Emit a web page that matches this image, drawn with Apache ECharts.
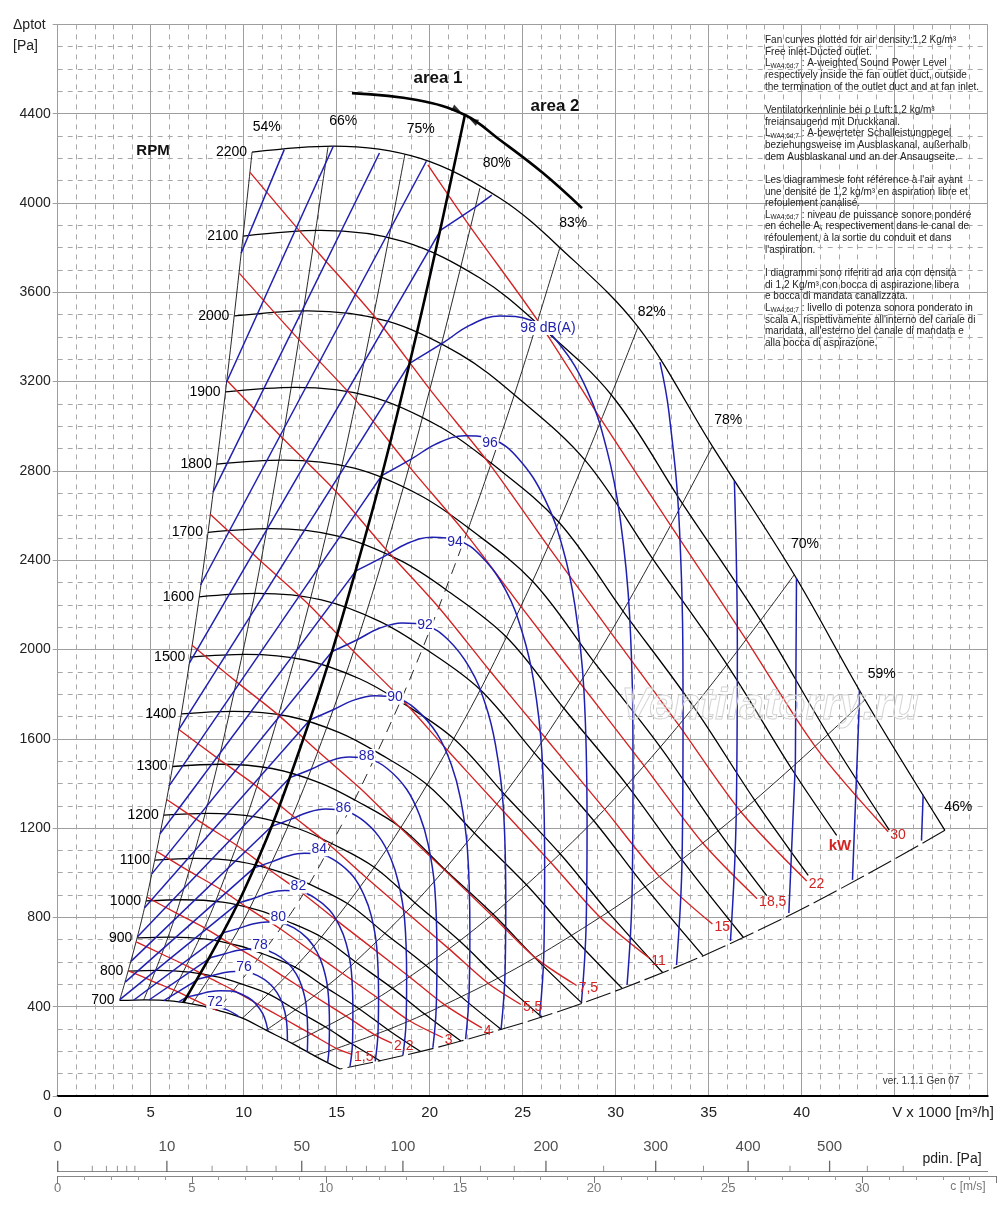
<!DOCTYPE html>
<html><head><meta charset="utf-8">
<script src="https://cdn.jsdelivr.net/npm/echarts/dist/echarts.min.js"></script>
<style>html,body{margin:0;padding:0;background:#fff}#c{width:1000px;height:1219px}</style>
</head><body><div id="c"></div>
<script>
// ---------------- RPM curves (V x1000 m3/h, dpt Pa) ----------------
const rpmSpeeds = [700,800,900,1000,1100,1200,1300,1400,1500,1600,1700,1800,1900,2000,2100,2200];
const rpm700  = [[3.33,428],[4.71,431],[6.21,425],[7.57,407],[8.59,385],[9.93,349],[11.2,295],[12.6,236],[13.81,180],[15.18,121]];
const rpm800  = [[3.8,559],[5.38,563],[7.09,555],[8.65,532],[9.82,503],[11.35,456],[12.8,385],[14.4,309],[15.78,235],[17.35,157]];
const rpm900  = [[4.28,708],[6.05,712],[7.98,703],[9.74,673],[11.05,636],[12.76,577],[14.4,487],[16.2,391],[17.75,297],[19.51,199]];
const rpm1000 = [[4.75,874],[6.73,879],[8.86,868],[10.82,831],[12.27,785],[14.18,712],[16.0,601],[18.0,482],[19.73,367],[21.68,246]];
const rpm1100 = [[5.23,1057],[7.4,1064],[9.75,1050],[11.9,1005],[13.5,950],[15.6,861],[17.6,728],[19.8,584],[21.7,444],[23.85,298]];
const rpm1200 = [[5.7,1258],[8.07,1266],[10.64,1250],[12.98,1196],[14.73,1131],[17.02,1025],[19.2,866],[21.6,695],[23.67,528],[26.02,354]];
const rpm1300 = [[6.18,1476],[8.75,1486],[11.52,1467],[14.06,1404],[15.95,1327],[18.44,1203],[20.8,1016],[23.4,815],[25.65,620],[28.19,416]];
const rpm1400 = [[6.65,1712],[9.42,1723],[12.41,1701],[15.15,1628],[17.18,1539],[19.85,1395],[22.4,1178],[25.2,946],[27.62,719],[30.35,482]];
const rpm1500 = [[7.13,1966],[10.09,1978],[13.3,1953],[16.23,1869],[18.41,1767],[21.27,1602],[24.0,1353],[27.0,1086],[29.59,825],[32.52,553]];
const rpm1600 = [[7.6,2236],[10.76,2251],[14.18,2222],[17.31,2126],[19.64,2010],[22.69,1822],[25.6,1539],[28.8,1235],[31.56,939],[34.69,629]];
const rpm1700 = [[8.08,2525],[11.44,2541],[15.07,2508],[18.39,2400],[20.86,2269],[24.11,2057],[27.2,1738],[30.6,1394],[33.54,1060],[36.86,711]];
const rpm1800 = [[8.55,2830],[12.11,2848],[15.95,2812],[19.47,2691],[22.09,2544],[25.53,2306],[28.8,1948],[32.4,1563],[35.51,1188],[38.12,898]];
const rpm1900 = [[9.03,3154],[12.78,3174],[16.84,3133],[20.55,2998],[23.32,2834],[26.95,2570],[30.4,2171],[34.2,1742],[37.48,1324],[40.35,988]];
const rpm2000 = [[9.5,3494],[13.45,3517],[17.73,3471],[21.64,3322],[24.55,3141],[28.36,2847],[32.0,2405],[36.0,1930],[39.45,1467],[41.88,1167]];
const rpm2100 = [[9.98,3852],[14.13,3877],[18.61,3827],[22.72,3663],[25.77,3462],[29.78,3139],[33.6,2652],[37.8,2128],[41.43,1617],[44.71,1191]];
const rpm2200 = [[10.45,4228],[14.8,4255],[19.5,4200],[23.8,4020],[27.0,3800],[31.2,3445],[35.2,2910],[39.6,2335],[43.4,1775],[47.7,1190]];
const rpmCurves = [rpm700,rpm800,rpm900,rpm1000,rpm1100,rpm1200,rpm1300,rpm1400,rpm1500,rpm1600,rpm1700,rpm1800,rpm1900,rpm2000,rpm2100,rpm2200];

// ---------------- efficiency lines ----------------
const eff54 = [[10.45,4228],[8.55,2830],[6.65,1712],[4.75,874],[3.33,428]];
const eff66 = [[14.53,4250],[11.89,2845],[9.25,1721],[6.6,878],[4.62,430]];
const eff75 = [[18.67,4219],[15.28,2824],[11.88,1709],[8.49,872],[5.94,427]];
const eff80 = [[22.7,4067],[18.57,2722],[14.45,1647],[10.32,840],[7.22,412]];
const eff83top = [[27.0,3800],[24.55,3141],[22.09,2544]];
const eff83low = [[22.09,2544],[19.64,2010],[17.18,1539],[14.73,1131],[12.27,785],[8.59,385]];
const eff82 = [[31.2,3445],[25.53,2306],[19.86,1395],[14.18,712],[9.93,349]];
const eff78 = [[35.2,2910],[28.8,1948],[22.4,1178],[16.0,601],[11.2,295]];
const eff70 = [[39.6,2335],[32.4,1563],[25.2,946],[18.0,482],[12.6,236]];
const eff59 = [[43.4,1775],[35.51,1188],[27.62,719],[19.73,367],[13.81,180]];
const eff46 = [[47.7,1190],[39.03,797],[30.36,482],[21.68,246],[15.18,121]];
const effLabelText = ['54%','66%','75%','80%','83%','82%','78%','70%','59%','46%'];
const effLabelAt = [[11.24,4341],[15.35,4368],[19.52,4330],[23.6,4180],[27.72,3911],[31.94,3513],[36.05,3028],[40.18,2472],[44.3,1888],[48.42,1294]];

// ---------------- area 1 / area 2 ----------------
const areaLine = [[21.9,4398],[19,3310],[16,2348],[13,1550],[10,917],[6.75,418]];
const areaArc = [[15.82,4492],[19.32,4461],[21.9,4394],[23.78,4282],[26.09,4134],[28.19,3977]];

// ---------------- power lines (kW) ----------------
const kw1_1 = [[3.81,561],[5.06,516],[6.26,474],[7.38,429],[8.57,383]];
const kw1_5 = [[4.22,690],[5.62,635],[6.94,583],[8.18,528],[9.51,471],[10.77,411],[12.15,347],[13.64,277],[15.01,212],[15.82,186]];
const kw2_2 = [[4.8,891],[6.38,819],[7.89,753],[9.29,682],[10.8,608],[12.24,530],[13.8,447],[15.5,358],[17.05,274],[17.97,237]];
const kw3   = [[5.32,1096],[7.07,1007],[8.75,926],[10.3,838],[11.98,748],[13.57,652],[15.3,550],[17.19,440],[18.91,337],[20.7,262]];
const kw4   = [[5.86,1328],[7.79,1221],[9.63,1122],[11.34,1016],[13.19,906],[14.94,790],[16.85,667],[18.92,533],[20.81,408],[22.8,305]];
const kw5_5 = [[6.51,1642],[8.66,1509],[10.7,1387],[12.61,1256],[14.66,1121],[16.61,977],[18.73,824],[21.04,659],[23.14,505],[24.9,410]];
const kw7_5 = [[7.22,2019],[9.6,1856],[11.87,1706],[13.99,1544],[16.26,1378],[18.42,1201],[20.77,1014],[23.33,810],[25.66,621],[27.9,495]];
const kw11  = [[8.2,2606],[10.91,2396],[13.49,2202],[15.89,1993],[18.47,1779],[20.93,1551],[23.6,1308],[26.51,1046],[29.16,801],[31.8,618]];
const kw15  = [[9.1,3205],[12.1,2946],[14.96,2708],[17.62,2451],[20.49,2188],[23.21,1907],[26.17,1609],[29.39,1286],[32.33,985],[35.2,770]];
const kw18_5= [[9.76,3686],[12.97,3388],[16.04,3115],[18.9,2819],[21.97,2516],[24.89,2194],[28.07,1851],[31.52,1480],[34.68,1133],[37.6,884]];
const kw22  = [[10.34,4137],[13.74,3803],[16.99,3496],[20.02,3164],[23.28,2824],[26.37,2462],[29.73,2077],[33.39,1661],[36.74,1272],[40.27,963]];
const kw30  = [[19.9,4171],[22.2,3891],[25.81,3473],[29.24,3027],[32.97,2554],[37.03,2042],[40.74,1564],[44.65,1184]];
const kwLines = [kw1_5,kw2_2,kw3,kw4,kw5_5,kw7_5,kw11,kw15,kw18_5,kw22,kw30];
const kwLabels = ['1,5','2,2','3','4','5,5','7,5','11','15','18,5','22','30'];

// ---------------- sound power curves dB(A) ----------------
const snd108Leg = [[9.86,3775],[12.18,4239]];
const snd108Right = [[46.53,1349],[46.44,1144]];
const snd106Leg = [[9.07,3196],[14.81,4253]];
const snd106Right = [[43.1,1819],[43.1,1763],[42.73,968]];
const snd104Leg = [[8.35,2705],[17.3,4224]];
const snd104Right = [[39.72,2319],[39.66,1493],[39.31,820]];
const snd102Leg = [[7.68,2289],[19.82,4187]];
const snd102Right = [[36.38,2755],[36.54,2007],[36.48,1263],[36.17,694]];
const snd100Leg = [[7.07,1938],[20.59,3879]];
const snd100Arc = [[20.59,3879],[22.51,3985],[23.34,4035]];
const snd100Right = [[32.38,3287],[32.86,3064],[33.43,2540],[33.62,1699],[33.57,1069],[33.27,587]];
const snd98Leg = [[6.5,1640],[18.94,3283]];
const snd98Arc = [[18.94,3283],[20.71,3373],[22.17,3453],[23.78,3494],[25.39,3476],[26.9,3375],[28.46,3162],[29.53,2893],[30.23,2593],[30.75,2150],[30.93,1438],[30.88,905],[30.61,497]];
const snd96Leg = [[5.98,1388],[17.42,2779]];
const snd96Arc = [[17.42,2779],[19.05,2855],[20.4,2923],[21.88,2957],[23.36,2942],[24.75,2857],[26.18,2676],[27.17,2449],[27.81,2195],[28.29,1820],[28.46,1217],[28.41,766],[28.16,421]];
const snd94Leg = [[5.5,1175],[16.03,2352]];
const snd94Arc = [[16.03,2352],[17.53,2416],[18.76,2474],[20.13,2503],[21.49,2490],[22.77,2418],[24.09,2265],[24.99,2073],[25.59,1858],[26.03,1540],[26.18,1030],[26.14,648],[25.91,356]];
const snd92Leg = [[5.06,995],[14.75,1991]];
const snd92Arc = [[14.75,1991],[16.13,2045],[17.26,2094],[18.52,2119],[19.77,2108],[20.95,2047],[22.16,1917],[23.0,1754],[23.54,1572],[23.95,1304],[24.09,872],[24.05,549],[23.84,301]];
const snd90Leg = [[4.66,842],[13.57,1685]];
const snd90Arc = [[13.57,1685],[14.84,1731],[15.88,1772],[17.04,1793],[18.19,1784],[19.27,1732],[20.39,1623],[21.16,1485],[21.66,1331],[22.03,1103],[22.16,738],[22.12,464],[21.93,255]];
const snd88Leg = [[4.28,712],[12.48,1426]];
const snd88Arc = [[12.48,1426],[13.65,1465],[14.61,1500],[15.67,1518],[16.73,1510],[17.73,1466],[18.76,1374],[19.46,1257],[19.92,1126],[20.27,934],[20.39,625],[20.35,393],[20.17,216]];
const snd86Leg = [[3.94,603],[11.49,1207]];
const snd86Arc = [[11.49,1207],[12.56,1240],[13.44,1270],[14.42,1285],[15.4,1278],[16.31,1241],[17.26,1163],[17.91,1064],[18.33,953],[18.65,791],[18.76,529],[18.73,333],[18.56,183]];
const snd84Leg = [[3.63,510],[10.56,1022]];
const snd84Arc = [[10.56,1022],[11.55,1050],[12.37,1075],[13.26,1087],[14.16,1082],[15.0,1050],[15.88,984],[16.47,900],[16.86,807],[17.15,669],[17.25,448],[17.22,282],[17.07,155]];
const snd82Leg = [[3.34,432],[9.72,865]];
const snd82Arc = [[9.72,865],[10.63,888],[11.38,910],[12.2,920],[13.03,916],[13.8,889],[14.61,833],[15.15,762],[15.51,683],[15.78,566],[15.87,379],[15.85,238],[15.71,131]];
const snd80Leg = [[4.08,429],[8.94,732]];
const snd80Arc = [[8.94,732],[9.78,752],[10.47,770],[11.23,779],[11.99,775],[12.7,753],[13.44,705],[13.94,645],[14.27,578],[14.52,480],[14.61,321],[14.58,202],[14.51,150]];
const snd78Leg = [[4.91,430],[8.23,620]];
const snd78Arc = [[8.23,620],[9.0,637],[9.63,652],[10.33,659],[11.03,656],[11.69,637],[12.36,597],[12.83,546],[13.13,489],[13.36,406],[13.44,271],[13.42,198]];
const snd76Leg = [[5.71,427],[7.57,524]];
const snd76Arc = [[7.57,524],[8.28,539],[8.86,551],[9.5,558],[10.15,555],[10.75,539],[11.37,505],[11.8,462],[12.08,414],[12.29,343],[12.35,247]];
const snd74Leg = [[6.5,422],[6.96,444]];
const snd74Arc = [[6.96,444],[7.62,456],[8.15,467],[8.74,472],[9.34,470],[9.89,456],[10.46,428],[10.86,391],[11.12,351],[11.31,291]];
const snd72Arc = [[7.94,399],[8.05,400],[8.59,398],[9.11,386],[9.63,362],[9.72,354]];
const sndStraight = [snd108Leg,snd108Right,snd106Leg,snd106Right,snd104Leg,snd104Right,snd102Leg,snd100Leg,snd98Leg,snd96Leg,snd94Leg,snd92Leg,snd90Leg,snd88Leg,snd86Leg,snd84Leg,snd82Leg,snd80Leg,snd78Leg,snd76Leg,snd74Leg];
const sndCurved = [snd102Right,snd100Arc,snd100Right,snd98Arc,snd96Arc,snd94Arc,snd92Arc,snd90Arc,snd88Arc,snd86Arc,snd84Arc,snd82Arc,snd80Arc,snd78Arc,snd76Arc,snd74Arc,snd72Arc];
const dbLabelText = ['98 dB(A)','96','94','92','90','88','86','84','82','80','78','76','72'];
const dbLabelAt = [[26.36,3440],[23.24,2925],[21.36,2483],[19.75,2110],[18.14,1788],[16.61,1523],[15.36,1289],[14.06,1105],[12.94,938],[11.86,800],[10.88,676],[10.02,576],[8.46,422]];

// ---------------- secondary scales ----------------
const pdinMajor = [0,10,50,100,200,300,400,500];
const pdinMajorAtV = [0,5.87,13.12,18.56,26.25,32.15,37.12,41.5];
const pdinMinorAtV = [1.86,2.62,3.21,3.71,4.15,8.3,10.17,11.74,14.38,15.53,16.6,17.61,20.75,22.73,24.55,29.35,34.72,39.37,43.53,45.46];

const noteLines = [
 'Fan curves plotted for air density:1,2 Kg/m³',
 'Free inlet-Ducted outlet.',
 '{l|L}{s|WA4;6d;7} : A-weighted Sound Power Level',
 'respectively inside the fan outlet duct, outside',
 'the termination of the outlet duct and at fan inlet.',
 '',
 'Ventilatorkennlinie bei ρ Luft:1,2 kg/m³',
 'freiansaugend mit Druckkanal.',
 '{l|L}{s|WA4;6d;7} : A-bewerteter Schalleistungpegel',
 'beziehungsweise im Ausblaskanal, außerhalb',
 'dem Ausblaskanal und an der Ansaugseite.',
 '',
 'Les diagrammese font référence à l\'air ayant',
 'une densité de 1,2 kg/m³ en aspiration libre et',
 'refoulement canalisé.',
 '{l|L}{s|WA4;6d;7} : niveau de puissance sonore pondéré',
 'en échelle A, respectivement dans le canal de',
 'réfoulement, à la sortie du conduit et dans',
 'l\'aspiration.',
 '',
 'I diagrammi sono riferiti ad aria con densità',
 'di 1,2 Kg/m³ con bocca di aspirazione libera',
 'e bocca di mandata canalizzata.',
 '{l|L}{s|WA4;6d;7} : livello di potenza sonora ponderato in',
 'scala A, rispettivamente all\'interno del canale di',
 'mandata, all\'esterno del canale di mandata e',
 'alla bocca di aspirazione.'
];

// ---------------- build ----------------
const FONT = '"Liberation Sans", Arial, sans-serif';
const NARROW = '"Liberation Sans Narrow", "Liberation Sans", Arial, sans-serif';
const BLUE = '#1f1fb0', RED = '#d42222';
const series = [];
function addLine(data, color, width, opt) {
  opt = opt || {};
  series.push({
    type: 'line', data: data, xAxisIndex: 0, yAxisIndex: 0, symbol: 'none', showSymbol: false,
    smooth: opt.smooth || false, silent: true, z: opt.z || 3,
    lineStyle: { color: color, width: width, type: opt.type || 'solid', opacity: 1 }
  });
}
function labelSeries(points, names, label, z) {
  series.push({
    type: 'scatter', xAxisIndex: 0, yAxisIndex: 0, symbol: 'circle', symbolSize: 0.1, silent: true, z: z || 20,
    itemStyle: { color: '#ffffff', opacity: 1 },
    data: points.map(function (p, i) { return { value: p, name: names[i] }; }),
    label: Object.assign({ show: true, formatter: '{b}', position: 'inside', opacity: 1 }, label)
  });
}

// efficiency lines
[eff54, eff66, eff75, eff80, eff83top, eff82, eff78, eff70, eff59].forEach(function (d) { addLine(d, '#111', 0.9, { smooth: 0.4, z: 2 }); });
addLine(eff83low, '#111', 0.9, { smooth: 0.4, z: 2, type: [11, 8] });
addLine(eff46, '#111', 1.1, { smooth: 0.4, z: 2, type: [26, 5] });
// RPM curves
rpmCurves.forEach(function (d) { addLine(d, '#000', 1.3, { smooth: 0.35, z: 4 }); });
// power
kwLines.forEach(function (d) { addLine(d, RED, 1.35, { smooth: 0.3, z: 5 }); });
addLine(kw1_1, RED, 1.35, { smooth: 0.3, z: 5 });
// sound
sndStraight.forEach(function (d) { addLine(d, BLUE, 1.5, { z: 6 }); });
sndCurved.forEach(function (d) { addLine(d, BLUE, 1.5, { smooth: 0.4, z: 6 }); });
// area separation
addLine(areaLine, '#000', 2.6, { smooth: 0.4, z: 7 });
addLine(areaArc, '#000', 2.6, { smooth: 0.4, z: 7 });
series.push({
  type: 'scatter', xAxisIndex: 0, yAxisIndex: 0, silent: true, z: 8, symbol: 'triangle', symbolSize: [7, 9],
  itemStyle: { color: '#000' },
  data: [{ value: [21.45, 4418], symbolRotate: -116 }, { value: [22.35, 4368], symbolRotate: 64 }]
});

// labels
labelSeries(rpmCurves.map(function (d) { return d[0]; }), rpmSpeeds.map(String),
  { position: 'left', distance: 5, color: '#000', fontSize: 14, fontFamily: FONT });
labelSeries(effLabelAt, effLabelText, { color: '#000', fontSize: 14, fontFamily: FONT });
labelSeries(dbLabelAt, dbLabelText, { color: BLUE, fontSize: 14, fontFamily: FONT, backgroundColor: '#fff', padding: [0, 1] }, 22);
labelSeries(kwLines.map(function (d) { return d[d.length - 1]; }), kwLabels,
  { position: 'right', distance: 2, offset: [0, 3], color: RED, fontSize: 14, fontFamily: FONT });
labelSeries([[42.06, 1122]], ['kW'], { color: RED, fontSize: 15, fontWeight: 'bold', fontFamily: FONT });

// pdin scale ticks
series.push({
  type: 'scatter', xAxisIndex: 1, yAxisIndex: 1, silent: true, symbol: 'rect', symbolSize: [1.3, 11], symbolOffset: [0, -5.5],
  itemStyle: { color: '#444' },
  data: pdinMajorAtV.map(function (v, i) { return { value: [v, 0], name: String(pdinMajor[i]) }; }),
  label: { show: true, position: 'top', distance: 6, formatter: '{b}', color: '#222', fontSize: 15, fontFamily: FONT }
});
series.push({
  type: 'scatter', xAxisIndex: 1, yAxisIndex: 1, silent: true, symbol: 'rect', symbolSize: [1, 6], symbolOffset: [0, -3],
  itemStyle: { color: '#777' },
  data: pdinMinorAtV.map(function (v) { return [v, 0]; })
});

const gridLine = '#9e9e9e';
const option = {
  animation: false,
  backgroundColor: '#fff',
  grid: [
    { left: 57.7, top: 24.4, width: 930, height: 1071.6 },
    { left: 57.7, top: 1150, width: 930, height: 21.7 },
    { left: 57.7, top: 1166, width: 938.7, height: 10 }
  ],
  xAxis: [
    { gridIndex: 0, type: 'value', min: 0, max: 50, interval: 5,
      axisLine: { show: true, onZero: false, lineStyle: { color: '#000', width: 2 } },
      axisTick: { show: false },
      axisLabel: { formatter: function (v) { return v <= 40 ? String(v) : ''; }, color: '#222', fontSize: 15, fontFamily: FONT, margin: 9 },
      splitLine: { show: true, lineStyle: { color: gridLine, width: 1 } },
      minorTick: { show: false, splitNumber: 5 },
      minorSplitLine: { show: true, lineStyle: { color: '#a8a8a8', width: 1, type: [5, 5] } } },
    { gridIndex: 1, type: 'value', min: 0, max: 50,
      axisLine: { show: true, onZero: false, lineStyle: { color: '#888', width: 1 } },
      axisTick: { show: false }, axisLabel: { show: false }, splitLine: { show: false } },
    { gridIndex: 2, type: 'value', min: 0, max: 35, interval: 5,
      axisLine: { show: true, onZero: false, lineStyle: { color: '#888', width: 1 } },
      axisTick: { show: true, length: 7, lineStyle: { color: '#777' } },
      minorTick: { show: true, splitNumber: 5, length: 4, lineStyle: { color: '#999' } },
      axisLabel: { formatter: function (v) { return v < 35 ? String(v) : ''; }, color: '#777', fontSize: 13, fontFamily: FONT, margin: 6 },
      splitLine: { show: false } }
  ],
  yAxis: [
    { gridIndex: 0, type: 'value', min: 0, max: 4800, interval: 400,
      axisLine: { show: true, lineStyle: { color: gridLine } },
      axisTick: { show: true, length: 5, lineStyle: { color: gridLine } },
      axisLabel: { formatter: function (v) { return v < 4800 ? String(v) : ''; }, color: '#222', fontSize: 14, fontFamily: FONT, margin: 7 },
      splitLine: { show: true, lineStyle: { color: gridLine, width: 1 } },
      minorTick: { show: false, splitNumber: 4 },
      minorSplitLine: { show: true, lineStyle: { color: '#a8a8a8', width: 1, type: [5, 5] } } },
    { gridIndex: 1, type: 'value', min: 0, max: 1, show: false },
    { gridIndex: 2, type: 'value', min: 0, max: 1, show: false }
  ],
  graphic: [
    { type: 'text', x: 13, y: 25, z: 50, style: { text: 'Δptot', font: '14px ' + FONT, fill: '#222', verticalAlign: 'middle' } },
    { type: 'text', x: 13, y: 46, z: 50, style: { text: '[Pa]', font: '14px ' + FONT, fill: '#222', verticalAlign: 'middle' } },
    { type: 'text', x: 153, y: 151, z: 50, style: { text: 'RPM', font: 'bold 15px ' + FONT, fill: '#111', align: 'center', verticalAlign: 'middle' } },
    { type: 'text', x: 438, y: 78, z: 50, style: { text: 'area 1', font: 'bold 17px ' + FONT, fill: '#111', align: 'center', verticalAlign: 'middle' } },
    { type: 'text', x: 555, y: 106, z: 50, style: { text: 'area 2', font: 'bold 17px ' + FONT, fill: '#111', align: 'center', verticalAlign: 'middle' } },
    { type: 'text', x: 765, y: 34.5, z: 50, style: {
        text: noteLines.join('\n'), fontFamily: NARROW, fontSize: 10, lineHeight: 11.65, fill: '#222', align: 'left', verticalAlign: 'top',
        rich: { l: { fontFamily: NARROW, fontSize: 10, lineHeight: 11.65, fill: '#222' },
                s: { fontFamily: NARROW, fontSize: 6.5, lineHeight: 11.65, fill: '#222', verticalAlign: 'bottom' } } } },
    { type: 'text', x: 921, y: 1081, z: 50, style: { text: 'ver. 1.1.1 Gen 07', font: '10px ' + NARROW, fill: '#333', align: 'center', verticalAlign: 'middle' } },
    { type: 'text', x: 943, y: 1113, z: 50, style: { text: 'V x 1000 [m³/h]', font: '15px ' + FONT, fill: '#222', align: 'center', verticalAlign: 'middle' } },
    { type: 'text', x: 952, y: 1159, z: 50, style: { text: 'pdin. [Pa]', font: '14px ' + FONT, fill: '#222', align: 'center', verticalAlign: 'middle' } },
    { type: 'text', x: 968, y: 1187, z: 50, style: { text: 'c [m/s]', font: '12px ' + FONT, fill: '#777', align: 'center', verticalAlign: 'middle' } },
    { type: 'text', x: 770, y: 707, z: 40, style: { text: 'Ventilatorry.ru', font: 'italic bold 44px ' + FONT, fill: 'rgba(255,255,255,0.25)', stroke: '#cfcfcf', lineWidth: 1, align: 'center', verticalAlign: 'middle' } }
  ],
  series: series
};
const chart = echarts.init(document.getElementById('c'));
chart.setOption(option);
</script>
</body></html>
